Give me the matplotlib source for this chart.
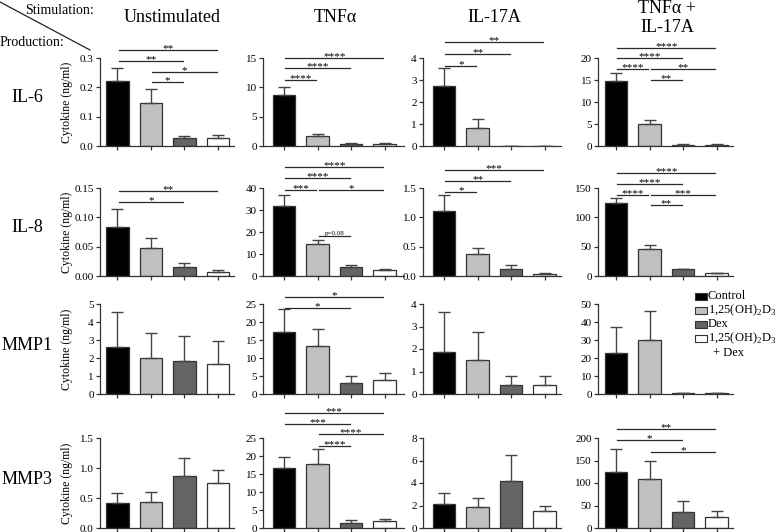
import numpy as np
import matplotlib.pyplot as plt
from matplotlib.lines import Line2D
from matplotlib.patches import Rectangle

plt.rcParams['font.family'] = ['Liberation Serif', 'DejaVu Serif']
plt.rcParams['mathtext.fontset'] = 'custom'
plt.rcParams['mathtext.rm'] = 'Liberation Serif'

stimulations = ['Unstimulated', 'TNFα', 'IL-17A', 'TNFα +\nIL-17A']
productions = ['IL-6', 'IL-8', 'MMP1', 'MMP3']
treatments = ['Control', '1,25(OH)$_2$D$_3$', 'Dex', '1,25(OH)$_2$D$_3$']
bar_colors = ['#000000', '#c0c0c0', '#646464', '#ffffff']

# mean and SEM per stimulation (Unstim, TNFa, IL-17A, TNFa+IL-17A)
il6_mean = [[0.22, 0.148, 0.027, 0.028], [8.7, 1.7, 0.4, 0.35],
            [2.73, 0.82, 0.02, 0.01], [14.8, 5.0, 0.3, 0.3]]
il6_err = [[0.046, 0.045, 0.008, 0.01], [1.35, 0.35, 0.1, 0.1],
           [0.8, 0.4, 0.0, 0.0], [1.8, 1.0, 0.1, 0.1]]
il8_mean = [[0.084, 0.048, 0.016, 0.0065], [32, 14.4, 4.3, 2.7],
            [1.1, 0.37, 0.125, 0.03], [125, 45.5, 11.5, 4.8]]
il8_err = [[0.031, 0.017, 0.007, 0.004], [5.0, 2.0, 0.6, 0.3],
           [0.28, 0.1, 0.055, 0.015], [8.5, 7.0, 1.0, 0.8]]
mmp1_mean = [[2.6, 2.0, 1.85, 1.65], [17.2, 13.3, 3.1, 3.9],
             [1.85, 1.5, 0.4, 0.4], [23, 30, 0.5, 0.4]]
mmp1_err = [[1.95, 1.4, 1.35, 1.3], [6.4, 4.7, 1.9, 1.9],
            [1.8, 1.25, 0.4, 0.4], [14, 16, 0.2, 0.2]]
mmp3_mean = [[0.42, 0.43, 0.87, 0.75], [16.7, 17.8, 1.4, 1.9],
             [2.1, 1.9, 4.15, 1.5], [125, 108, 35, 25]]
mmp3_err = [[0.16, 0.17, 0.3, 0.21], [3.0, 4.1, 0.8, 0.6],
            [1.0, 0.8, 2.3, 0.5], [50, 40, 25, 13]]

# y axis ranges
il6_ymax, il6_step, il6_fmt = [0.3, 15, 4, 20], [0.1, 5, 1, 5], ['%.1f', '%d', '%d', '%d']
il8_ymax, il8_step, il8_fmt = [0.15, 40, 1.5, 150], [0.05, 10, 0.5, 50], ['%.2f', '%d', '%.1f', '%d']
mmp1_ymax, mmp1_step, mmp1_fmt = [5, 25, 4, 50], [1, 5, 1, 10], ['%d', '%d', '%d', '%d']
mmp3_ymax, mmp3_step, mmp3_fmt = [1.5, 25, 8, 200], [0.5, 5, 2, 50], ['%.1f', '%d', '%d', '%d']

# significance comparisons (bar i, bar j, label)
il6_sig = [[(0, 3, '**'), (0, 2, '**'), (1, 3, '*'), (1, 2, '*')],
           [(0, 3, '****'), (0, 2, '****'), (0, 1, '****')],
           [(0, 3, '**'), (0, 2, '**'), (0, 1, '*')],
           [(0, 3, '****'), (0, 2, '****'), (0, 1, '****'), (1, 3, '**'), (1, 2, '**')]]
il8_sig = [[(0, 3, '**'), (0, 2, '*')],
           [(0, 3, '****'), (0, 2, '****'), (0, 1, '***'), (1, 3, '*'), (1, 2, 'p=0.08')],
           [(0, 3, '***'), (0, 2, '**'), (0, 1, '*')],
           [(0, 3, '****'), (0, 2, '****'), (0, 1, '****'), (1, 3, '***'), (1, 2, '**')]]
mmp1_sig = [[], [(0, 3, '*'), (0, 2, '*')], [], []]
mmp3_sig = [[], [(0, 3, '***'), (0, 2, '***'), (1, 3, '****'), (1, 2, '****')], [],
            [(0, 3, '**'), (0, 2, '*'), (1, 3, '*')]]

# heights of the bracket lines, in axes fraction
il6_sig_y = [[1.09, 0.966, 0.84, 0.727], [1.0, 0.886, 0.75], [1.18, 1.045, 0.91],
             [1.11, 1.0, 0.875, 0.875, 0.75]]
il8_sig_y = [[0.966, 0.84], [1.24, 1.11, 0.977, 0.977, 0.455], [1.2, 1.08, 0.955],
             [1.17, 1.05, 0.92, 0.92, 0.81]]
mmp1_sig_y = [[], [1.075, 0.96], [], []]
mmp3_sig_y = [[], [1.28, 1.16, 1.04, 0.91], [], [1.1, 0.98, 0.85]]

rows = [
    (il6_mean, il6_err, il6_ymax, il6_step, il6_fmt, il6_sig, il6_sig_y),
    (il8_mean, il8_err, il8_ymax, il8_step, il8_fmt, il8_sig, il8_sig_y),
    (mmp1_mean, mmp1_err, mmp1_ymax, mmp1_step, mmp1_fmt, mmp1_sig, mmp1_sig_y),
    (mmp3_mean, mmp3_err, mmp3_ymax, mmp3_step, mmp3_fmt, mmp3_sig, mmp3_sig_y),
]

W, H = 778, 532
fig = plt.figure(figsize=(W / 100, H / 100), dpi=100)

# layout in pixels
col_left = [100, 263, 423, 598]
col_xlim = [(-0.52, 3.48), (-0.63, 3.57), (-0.63, 3.5), (-0.54, 3.5)]
px_per_bar = 33.5
row_top = [58, 188, 304, 438]
row_bot = [146, 276, 394, 528]
edge = '#333333'

x = np.arange(4)
for r, (means, errs, ymaxs, steps, fmts, sigs, sig_ys) in enumerate(rows):
    for c in range(4):
        x0, x1 = col_xlim[c]
        w = (x1 - x0) * px_per_bar
        ax = fig.add_axes([col_left[c] / W, 1 - row_bot[r] / H, w / W,
                           (row_bot[r] - row_top[r]) / H])
        m = np.array(means[c])
        e = np.array(errs[c])
        ax.bar(x, m, width=0.68, color=bar_colors, edgecolor=edge, linewidth=0.9, zorder=2)
        ax.errorbar(x, m, yerr=[np.zeros(4), e], fmt='none', ecolor='#444444',
                    elinewidth=1.0, capsize=4.2, capthick=1.0, zorder=3)
        ax.set_xlim(x0, x1)
        ax.set_ylim(0, ymaxs[c])
        ticks = np.arange(0, ymaxs[c] + steps[c] / 2, steps[c])
        ax.set_yticks(ticks)
        ax.set_yticklabels([fmts[c] % t for t in ticks], fontsize=8)
        ax.set_xticks(x)
        ax.set_xticklabels([])
        ax.tick_params(axis='both', direction='out', length=3, width=0.9,
                       color=edge, pad=1.5)
        for s in ['top', 'right']:
            ax.spines[s].set_visible(False)
        for s in ['left', 'bottom']:
            ax.spines[s].set_color(edge)
            ax.spines[s].set_linewidth(0.9)

        trans = ax.get_xaxis_transform()
        for (i, j, lab), yy in zip(sigs[c], sig_ys[c]):
            ax.plot([i + 0.04, j - 0.04], [yy, yy], color='#2a2a2a', lw=0.9,
                    transform=trans, clip_on=False, zorder=4)
            if lab.startswith('p'):
                ax.text((i + j) / 2, yy, lab, transform=trans, ha='center',
                        va='bottom', fontsize=5)
            else:
                ax.annotate(lab, ((i + j) / 2, yy), xycoords=trans,
                            xytext=(0, -0.8), textcoords='offset points',
                            ha='center', va='baseline', fontsize=8)

        if c == 0:
            yc = 1 - (row_top[r] + row_bot[r]) / 2 / H
            fig.text(67 / W, yc, 'Cytokine (ng/ml)', rotation=90, ha='center',
                     va='center', fontsize=8.5)
            fig.text(27 / W, yc + 4 / H, productions[r], ha='center', va='center',
                     fontsize=13)

# column headers
title_x = [172, 335, 494, 667]
for c in range(4):
    fig.text(title_x[c] / W, 1 - 18 / H, stimulations[c], ha='center', va='center',
             fontsize=13, linespacing=1.15)

fig.text(60 / W, 1 - 10 / H, 'Stimulation:', ha='center', va='center', fontsize=10)
fig.text(0 / W, 1 - 43 / H, 'Production:', ha='left', va='center', fontsize=10)
fig.add_artist(Line2D([0, 90 / W], [1 - 2 / H, 1 - 50 / H], color='#222222', lw=0.9))

# legend
leg_y = [296, 310, 324, 338]
for k in range(4):
    fig.add_artist(Rectangle((695 / W, 1 - (leg_y[k] + 3.5) / H), 12 / W, 7 / H,
                             facecolor=bar_colors[k], edgecolor=edge, linewidth=0.8))
    fig.text(708 / W, 1 - leg_y[k] / H, treatments[k], ha='left', va='center', fontsize=9)
fig.text(713 / W, 1 - 353 / H, '+ Dex', ha='left', va='center', fontsize=9)

fig.savefig('out.png', dpi=100)
